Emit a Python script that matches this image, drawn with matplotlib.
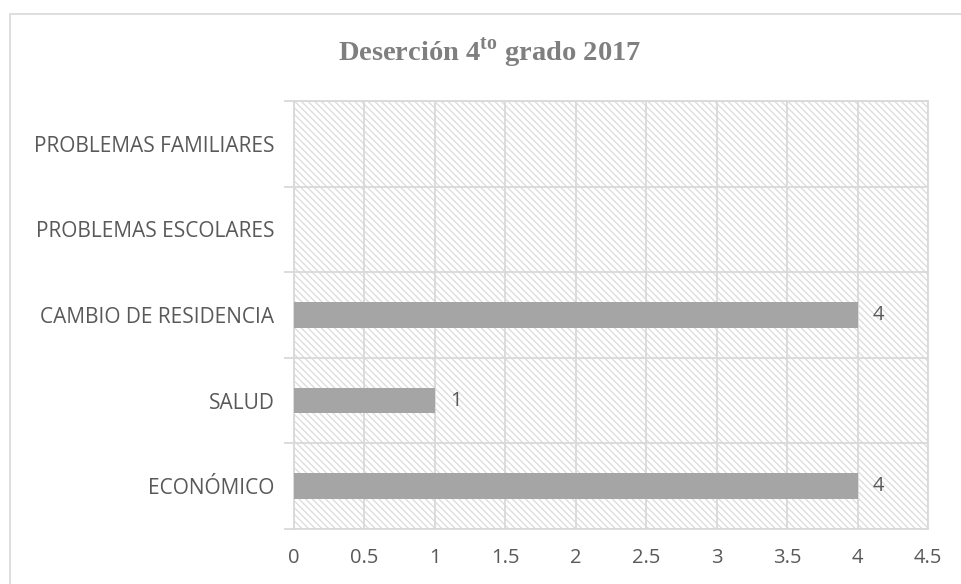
import matplotlib
matplotlib.use("Agg")
import matplotlib.pyplot as plt
import matplotlib.patches as patches
import numpy as np

categories = ["ECONÓMICO", "SALUD", "CAMBIO DE RESIDENCIA",
              "PROBLEMAS ESCOLARES", "PROBLEMAS FAMILIARES"]
values = [4, 1, 4, 0, 0]
x_ticks = [0, 0.5, 1, 1.5, 2, 2.5, 3, 3.5, 4, 4.5]
x_labels = ["0", "0.5", "1", "1.5", "2", "2.5", "3", "3.5", "4", "4.5"]

grid_col = "#d9d9d9"
text_col = "#595959"

plt.rcParams["hatch.color"] = "#dedede"
plt.rcParams["hatch.linewidth"] = 1.0
plt.rcParams["mathtext.fontset"] = "custom"
plt.rcParams["mathtext.bf"] = "Liberation Serif:bold"
plt.rcParams["mathtext.rm"] = "Liberation Serif:bold"

fig = plt.figure(figsize=(9.61, 5.84), dpi=100)
ax = fig.add_axes([294 / 961, 1 - 529 / 584, 634 / 961, 428 / 584])

# hatched plot area
ax.add_patch(patches.Rectangle((0, 0), 1, 1, transform=ax.transAxes,
                               facecolor="white", edgecolor="#dedede",
                               hatch="\\\\\\\\\\", linewidth=0, zorder=0))

y = np.arange(len(categories))
ax.barh(y, values, height=0.3, color="#a5a5a5", zorder=3)

for yi, v in zip(y, values):
    if v > 0:
        ax.annotate(str(v), (v, yi), xytext=(11, 0), textcoords="offset points",
                    va="center", ha="left", fontsize=14.5, color=text_col,
                    family="Open Sans", zorder=4)

ax.set_xlim(0, 4.5)
ax.set_ylim(-0.5, len(categories) - 0.5)
ax.set_xticks(x_ticks)
ax.set_xticklabels(x_labels)
ax.set_yticks(np.arange(-0.5, len(categories), 1.0))
ax.set_yticklabels([])
ax.set_yticks(y, minor=True)
ax.set_yticklabels(categories, minor=True)

ax.tick_params(axis="y", which="major", length=7, color=grid_col, width=1.3)
ax.tick_params(axis="y", which="minor", length=0, pad=14,
               labelsize=15, labelcolor=text_col)
ax.tick_params(axis="x", length=0, pad=14, labelsize=14.5, labelcolor=text_col)
for lab in ax.get_yticklabels(minor=True) + ax.get_xticklabels():
    lab.set_family("Open Sans")

ax.grid(True, which="major", color=grid_col, linewidth=1.3, zorder=1)
ax.set_axisbelow(True)
for s in ax.spines.values():
    s.set_color(grid_col)
    s.set_linewidth(1.3)

fig.text(490 / 961, 1 - 52 / 584, "Deserción 4$^{\\mathbf{to}}$ grado 2017",
         ha="center", va="center", fontsize=20.5, fontweight="bold",
         family="Liberation Serif", color="#7f7f7f")

# outer chart border
fig.add_artist(patches.Rectangle((10 / 961, -0.05), 1.0, 1 - 14 / 584 + 0.05,
                                 transform=fig.transFigure, fill=False,
                                 edgecolor=grid_col, linewidth=1.2))

fig.savefig("out.png", dpi=100)
